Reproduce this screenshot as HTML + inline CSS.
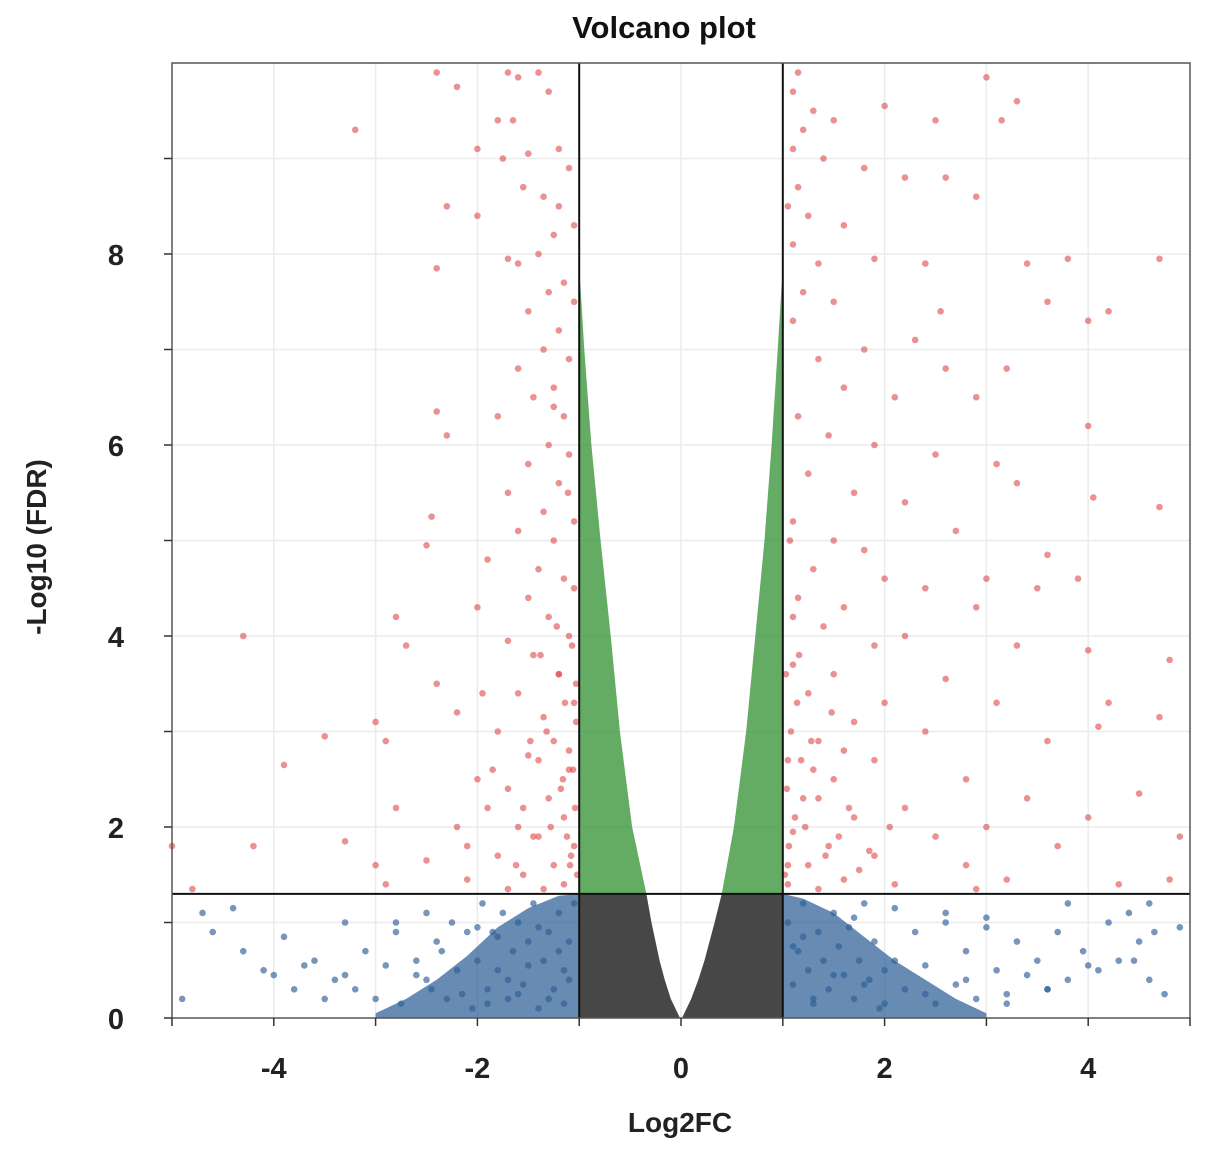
<!DOCTYPE html>
<html><head><meta charset="utf-8"><style>
html,body{margin:0;padding:0;background:#fff;}
svg{display:block;font-family:"Liberation Sans",sans-serif;}
</style></head><body>
<svg id="chart" width="1205" height="1150"></svg>
<script>
// ---- data arrays ----
const xTicks=[-4,-2,0,2,4];
const yTicks=[0,2,4,6,8];
const fcCut=[-1,1];
const fdrCut=1.3;
// gray V cutout (white region) half-widths by y
const vY=[0,0.2,0.4,0.6,0.8,1.0,1.3];
const vHalfL=[0.01,0.1,0.16,0.21,0.25,0.29,0.34];
const vHalfR=[0.01,0.1,0.17,0.23,0.28,0.33,0.40];
// green band inner boundaries by y
const gY=[1.3,2,3,4,5,6,7,7.7];
const gInnerL=[-0.34,-0.48,-0.6,-0.69,-0.79,-0.88,-0.95,-0.99];
const gInnerR=[0.40,0.52,0.64,0.73,0.82,0.89,0.95,0.99];
const redX=[-2.4,-2.2,-1.7,-1.6,-1.4,-1.3,-1.8,-1.65,-3.2,-2.0,-1.75,-1.5,-1.2,-1.1,-1.55,-1.35,-2.3,-1.2,-1.05,-2.0,-1.25,-1.4,-1.7,-1.6,-2.4,-1.15,-1.3,-1.05,-1.5,-1.2,-1.35,-1.6,-1.1,-1.25,-1.45,-1.15,-2.4,-1.8,-2.3,-1.3,-1.1,-1.5,-1.2,-1.7,-2.45,-1.35,-1.05,-1.6,-1.25,-2.5,-1.9,-1.4,-1.15,-1.5,-2.0,-1.3,-2.8,-4.3,-1.1,-1.7,-2.7,-1.45,-1.2,-2.4,-1.6,-1.05,-2.2,-1.35,-3.0,-1.8,-3.5,-1.25,-2.9,-1.5,-1.1,-3.9,-2.0,-1.7,-1.3,-2.8,-1.9,-1.15,-1.6,-2.2,-1.4,-3.3,-4.2,-5.0,-1.05,-1.8,-2.5,-1.25,-3.0,-1.55,-2.1,-1.15,-1.35,-4.8,-2.9,-1.7,
-1.02,-1.08,-1.12,-1.04,-1.18,-1.06,-1.1,-1.03,-1.14,-1.2,-1.07,-1.22,-1.05,-1.28,-1.09,-1.16,-1.03,-1.11,-1.25,-1.4,-1.32,-1.45,-1.38,-1.55,-1.62,-1.48,-1.85,-2.1,-1.95,
1.15,1.1,1.3,1.2,1.5,3.0,3.3,3.15,2.0,2.5,1.1,1.4,1.8,2.2,2.9,1.15,1.05,1.25,1.6,2.6,1.1,1.35,1.9,2.4,3.4,3.8,4.7,1.2,1.5,2.55,3.6,4.0,4.2,1.1,1.8,2.3,1.35,2.6,3.2,1.6,2.1,2.9,1.15,1.45,4.0,1.9,2.5,3.1,1.25,1.7,3.3,2.2,4.05,4.7,1.1,1.5,2.7,1.8,3.6,1.3,2.0,2.4,3.0,3.9,1.15,1.6,2.9,3.5,1.4,2.2,1.9,3.3,4.0,4.8,1.1,1.5,2.6,1.25,2.0,3.1,4.2,1.7,4.7,2.4,1.35,3.6,4.1,1.05,1.9,2.8,1.5,3.4,4.5,1.2,2.2,1.7,3.0,4.0,1.1,2.5,1.45,3.7,4.9,1.9,1.25,2.8,1.6,3.2,2.1,1.05,4.3,1.35,2.9,4.8,
1.02,1.06,1.12,1.04,1.18,1.08,1.14,1.03,1.22,1.1,1.05,1.28,1.16,1.07,1.35,1.42,1.3,1.55,1.48,1.65,1.75,1.6,1.85,2.05];
const redY=[9.9,9.75,9.9,9.85,9.9,9.7,9.4,9.4,9.3,9.1,9.0,9.05,9.1,8.9,8.7,8.6,8.5,8.5,8.3,8.4,8.2,8.0,7.95,7.9,7.85,7.7,7.6,7.5,7.4,7.2,7.0,6.8,6.9,6.6,6.5,6.3,6.35,6.3,6.1,6.0,5.9,5.8,5.6,5.5,5.25,5.3,5.2,5.1,5.0,4.95,4.8,4.7,4.6,4.4,4.3,4.2,4.2,4.0,4.0,3.95,3.9,3.8,3.6,3.5,3.4,3.3,3.2,3.15,3.1,3.0,2.95,2.9,2.9,2.75,2.6,2.65,2.5,2.4,2.3,2.2,2.2,2.1,2.0,2.0,1.9,1.85,1.8,1.8,1.8,1.7,1.65,1.6,1.6,1.5,1.45,1.4,1.35,1.35,1.4,1.35,
1.5,1.7,1.9,2.2,2.4,2.6,2.8,3.1,3.3,3.6,3.9,4.1,4.5,2.0,1.6,2.5,3.5,5.5,6.4,2.7,3.0,1.9,3.8,2.2,1.6,2.9,2.6,1.8,3.4,
9.9,9.7,9.5,9.3,9.4,9.85,9.6,9.4,9.55,9.4,9.1,9.0,8.9,8.8,8.6,8.7,8.5,8.4,8.3,8.8,8.1,7.9,7.95,7.9,7.9,7.95,7.95,7.6,7.5,7.4,7.5,7.3,7.4,7.3,7.0,7.1,6.9,6.8,6.8,6.6,6.5,6.5,6.3,6.1,6.2,6.0,5.9,5.8,5.7,5.5,5.6,5.4,5.45,5.35,5.2,5.0,5.1,4.9,4.85,4.7,4.6,4.5,4.6,4.6,4.4,4.3,4.3,4.5,4.1,4.0,3.9,3.9,3.85,3.75,3.7,3.6,3.55,3.4,3.3,3.3,3.3,3.1,3.15,3.0,2.9,2.9,3.05,2.7,2.7,2.5,2.5,2.3,2.35,2.3,2.2,2.1,2.0,2.1,1.95,1.9,1.8,1.8,1.9,1.7,1.6,1.6,1.45,1.45,1.4,1.4,1.4,1.35,1.35,1.45,
1.5,1.8,2.1,2.4,2.7,3.0,3.3,3.6,2.0,4.2,1.6,2.9,3.8,5.0,2.3,1.7,2.6,1.9,3.2,2.2,1.55,2.8,1.75,2.0];
const blueX=[-4.9,-4.7,-4.6,-4.4,-4.3,-4.1,-3.9,-3.8,-3.6,-3.5,-3.4,-3.3,-3.2,-3.1,-3.0,-2.9,-2.8,-2.75,-2.6,-2.5,-2.45,-2.4,-2.3,-2.25,-2.2,-2.1,-2.05,-2.0,-1.95,-1.9,-1.85,-1.8,-1.75,-1.7,-1.65,-1.6,-1.55,-1.5,-1.45,-1.4,-1.35,-1.3,-1.25,-1.2,-1.15,-1.1,-1.05,-2.6,-2.35,-2.15,-1.9,-1.7,-1.5,-1.3,-1.1,-1.8,-1.4,-1.2,-2.5,-3.3,-3.7,-4.0,-2.8,-2.0,-1.6,-1.15,
4.9,4.75,4.6,4.5,4.4,4.3,4.2,4.1,3.95,3.8,3.7,3.6,3.5,3.4,3.3,3.2,3.1,3.0,2.9,2.8,2.7,2.6,2.5,2.4,2.3,2.2,2.1,2.0,1.95,1.9,1.85,1.8,1.75,1.7,1.65,1.6,1.55,1.5,1.45,1.4,1.35,1.3,1.25,1.2,1.15,1.1,1.05,4.65,4.45,4.0,3.6,3.2,2.8,2.4,2.1,1.8,1.5,1.3,1.1,2.6,3.0,3.8,4.6,2.0,1.7,1.2];
const blueY=[0.2,1.1,0.9,1.15,0.7,0.5,0.85,0.3,0.6,0.2,0.4,1.0,0.3,0.7,0.2,0.55,0.9,0.15,0.6,1.1,0.3,0.8,0.2,1.0,0.5,0.9,0.1,0.6,1.2,0.3,0.9,0.5,1.1,0.2,0.7,1.0,0.35,0.8,1.2,0.1,0.6,0.9,0.3,1.1,0.5,0.8,1.2,0.45,0.7,0.25,0.15,0.4,0.55,0.2,0.4,0.85,0.95,0.7,0.4,0.45,0.55,0.45,1.0,0.95,0.25,0.15,
0.95,0.25,1.2,0.8,1.1,0.6,1.0,0.5,0.7,0.4,0.9,0.3,0.6,0.45,0.8,0.25,0.5,1.05,0.2,0.7,0.35,1.0,0.15,0.55,0.9,0.3,1.15,0.5,0.1,0.8,0.4,1.2,0.6,0.2,0.95,0.45,0.75,1.1,0.3,0.6,0.9,0.15,0.5,1.2,0.7,0.35,1.0,0.9,0.6,0.55,0.3,0.15,0.4,0.25,0.6,0.35,0.45,0.2,0.75,1.1,0.95,1.2,0.4,0.15,1.05,0.85];
// dense blue cloud outlines (x, top y)
const bCloudLX=[-3.0,-2.7,-2.4,-2.1,-1.8,-1.5,-1.2,-1.0];
const bCloudLY=[0.05,0.2,0.4,0.65,0.95,1.15,1.28,1.3];
const bCloudRX=[1.0,1.2,1.5,1.8,2.1,2.4,2.7,3.0];
const bCloudRY=[1.3,1.25,1.1,0.85,0.6,0.4,0.2,0.05];

// ---- scales ----
const L=172,R=1190,T=63,B=1018;
const sx=v=>L+(v+5)/10*(R-L);
const sy=v=>B-v/10*(B-T);
const svg=document.getElementById('chart');
const NS='http://www.w3.org/2000/svg';
function mk(tag,attrs,parent){const e=document.createElementNS(NS,tag);for(const k in attrs)e.setAttribute(k,attrs[k]);(parent||svg).appendChild(e);return e;}

// gridlines
const grid=mk('g',{});


for(let v=-4;v<=4;v++){mk('line',{x1:sx(v),x2:sx(v),y1:T,y2:B,stroke:'#ebebeb','stroke-width':1.5},grid);}
for(let v=1;v<=9;v++){mk('line',{x1:L,x2:R,y1:sy(v),y2:sy(v),stroke:'#ebebeb','stroke-width':1.5},grid);}

// gray region
let gp=[[-1,0]];
for(let i=0;i<vY.length;i++)gp.push([-vHalfL[i],vY[i]]);
gp.push([-1,fdrCut]);
let grayL=mk('polygon',{points:gp.map(p=>sx(p[0])+','+sy(p[1])).join(' '),fill:'#474747'});


gp=[[1,0]];
for(let i=0;i<vY.length;i++)gp.push([vHalfR[i],vY[i]]);
gp.push([1,fdrCut]);
let grayR=mk('polygon',{points:gp.map(p=>sx(p[0])+','+sy(p[1])).join(' '),fill:'#474747'});



// green bands
let pts=[];
for(let i=0;i<gY.length;i++)pts.push([gInnerL[i],gY[i]]);
for(let i=gY.length-1;i>=0;i--)pts.push([-1,gY[i]]);
let gl=mk('polygon',{points:pts.map(p=>sx(p[0])+','+sy(p[1])).join(' '),fill:'#3d973d',opacity:0.8});


pts=[];
for(let i=0;i<gY.length;i++)pts.push([gInnerR[i],gY[i]]);
for(let i=gY.length-1;i>=0;i--)pts.push([1,gY[i]]);
let gr=mk('polygon',{points:pts.map(p=>sx(p[0])+','+sy(p[1])).join(' '),fill:'#3d973d',opacity:0.8});



// blue clouds
pts=[[bCloudLX[0],0]];for(let i=0;i<bCloudLX.length;i++)pts.push([bCloudLX[i],bCloudLY[i]]);pts.push([-1,0]);
let bl=mk('polygon',{points:pts.map(p=>sx(p[0])+','+sy(p[1])).join(' '),fill:'#265a93',opacity:0.7});


pts=[[1,0]];for(let i=0;i<bCloudRX.length;i++)pts.push([bCloudRX[i],bCloudRY[i]]);pts.push([bCloudRX[bCloudRX.length-1],0]);
let br=mk('polygon',{points:pts.map(p=>sx(p[0])+','+sy(p[1])).join(' '),fill:'#265a93',opacity:0.7});



// points
const pg=mk('g',{});


for(let i=0;i<blueX.length;i++){const c=mk('circle',{cx:sx(blueX[i]),cy:sy(blueY[i]),r:3.3,fill:'#2c5f96','fill-opacity':0.65},pg);

}
for(let i=0;i<redX.length;i++){const c=mk('circle',{cx:sx(redX[i]),cy:sy(redY[i]),r:3.3,fill:'#e04848','fill-opacity':0.6},pg);

}

// threshold lines
for(const v of fcCut){const l=mk('line',{x1:sx(v),x2:sx(v),y1:T,y2:B,stroke:'#111','stroke-width':2});

}
const hl=mk('line',{x1:L,x2:R,y1:sy(fdrCut),y2:sy(fdrCut),stroke:'#111','stroke-width':2});



// frame
const fr=mk('rect',{x:L,y:T,width:R-L,height:B-T,fill:'none',stroke:'#555','stroke-width':1.5});



// ticks
for(let v=-5;v<=5;v++){mk('line',{x1:sx(v),x2:sx(v),y1:B,y2:B+8,stroke:'#333','stroke-width':1.5});}
for(let v=0;v<=9;v++){mk('line',{x1:L-8,x2:L,y1:sy(v),y2:sy(v),stroke:'#333','stroke-width':1.5});}
for(const v of xTicks){const t=mk('text',{x:sx(v),y:1078,'text-anchor':'middle','font-size':29,'font-weight':'bold',fill:'#222'});t.textContent=v;

}
for(const v of yTicks){const t=mk('text',{x:124,y:sy(v)+11,'text-anchor':'end','font-size':29,'font-weight':'bold',fill:'#222'});t.textContent=v;

}

// titles
let t=mk('text',{x:664,y:38,'text-anchor':'middle','font-size':31,'font-weight':'bold',fill:'#111'});t.textContent='Volcano plot';


t=mk('text',{x:680,y:1132,'text-anchor':'middle','font-size':28,'font-weight':'bold',fill:'#222'});t.textContent='Log2FC';


t=mk('text',{x:0,y:0,'text-anchor':'middle','font-size':28,'font-weight':'bold',fill:'#222',transform:'translate(46,547) rotate(-90)'});t.textContent='-Log10 (FDR)';


</script>
</body></html>
